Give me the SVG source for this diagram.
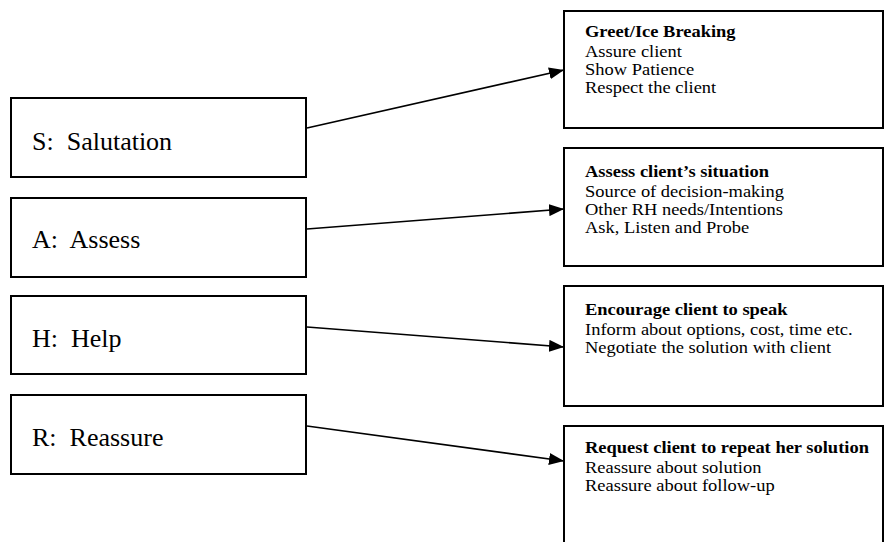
<svg xmlns="http://www.w3.org/2000/svg" width="885" height="542" viewBox="0 0 885 542">
<defs>
<style>
.box{fill:#fff;stroke:#000;stroke-width:2}
.lbl{font-family:"Liberation Serif","Times New Roman",serif;font-size:26px;fill:#000}
.t{font-family:"Liberation Serif","Times New Roman",serif;font-size:16.5px;fill:#000}
.b{font-weight:bold}
.conn{stroke:#000;stroke-width:1.6;fill:none}
</style>
<marker id="arr" markerWidth="16" markerHeight="12" refX="15" refY="6" orient="auto" markerUnits="userSpaceOnUse">
<path d="M0,0 L15,6 L0,12 Z" fill="#000"/>
</marker>
</defs>
<rect width="885" height="542" fill="#fff"/>
<g id="s-node"><rect class="box" x="11" y="98" width="295" height="79"/><text class="lbl" x="32" y="150" xml:space="preserve">S:  Salutation</text></g>
<g id="a-node"><rect class="box" x="11" y="198" width="295" height="79"/><text class="lbl" x="32" y="248" xml:space="preserve">A:  Assess</text></g>
<g id="h-node"><rect class="box" x="11" y="296" width="295" height="78"/><text class="lbl" x="32" y="347" xml:space="preserve">H:  Help</text></g>
<g id="r-node"><rect class="box" x="11" y="395" width="295" height="79"/><text class="lbl" x="32" y="446" xml:space="preserve">R:  Reassure</text></g>
<g id="s-detail"><rect class="box" x="564" y="11" width="319" height="117"/>
<g transform="translate(585,0) scale(1.12,1)">
<text class="t b" x="0" y="37">Greet/Ice Breaking</text>
<text class="t" x="0" y="57">Assure client</text>
<text class="t" x="0" y="75">Show Patience</text>
<text class="t" x="0" y="93">Respect the client</text></g></g>
<g id="a-detail"><rect class="box" x="564" y="148" width="319" height="118"/>
<g transform="translate(585,0) scale(1.12,1)">
<text class="t b" x="0" y="177">Assess client’s situation</text>
<text class="t" x="0" y="197">Source of decision-making</text>
<text class="t" x="0" y="215">Other RH needs/Intentions</text>
<text class="t" x="0" y="233">Ask, Listen and Probe</text></g></g>
<g id="h-detail"><rect class="box" x="564" y="286" width="319" height="120"/>
<g transform="translate(585,0) scale(1.12,1)">
<text class="t b" x="0" y="315">Encourage client to speak</text>
<text class="t" x="0" y="335">Inform about options, cost, time etc.</text>
<text class="t" x="0" y="353">Negotiate the solution with client</text></g></g>
<g id="r-detail"><rect class="box" x="564" y="426" width="319" height="130"/>
<g transform="translate(585,0) scale(1.12,1)">
<text class="t b" x="0" y="453">Request client to repeat her solution</text>
<text class="t" x="0" y="473">Reassure about solution</text>
<text class="t" x="0" y="491">Reassure about follow-up</text></g></g>
<g id="connectors">
<line class="conn" x1="307" y1="128" x2="564" y2="70" marker-end="url(#arr)"/>
<line class="conn" x1="307" y1="229" x2="564" y2="209" marker-end="url(#arr)"/>
<line class="conn" x1="307" y1="327" x2="564" y2="347" marker-end="url(#arr)"/>
<line class="conn" x1="307" y1="426" x2="564" y2="461" marker-end="url(#arr)"/>
</g>
</svg>
